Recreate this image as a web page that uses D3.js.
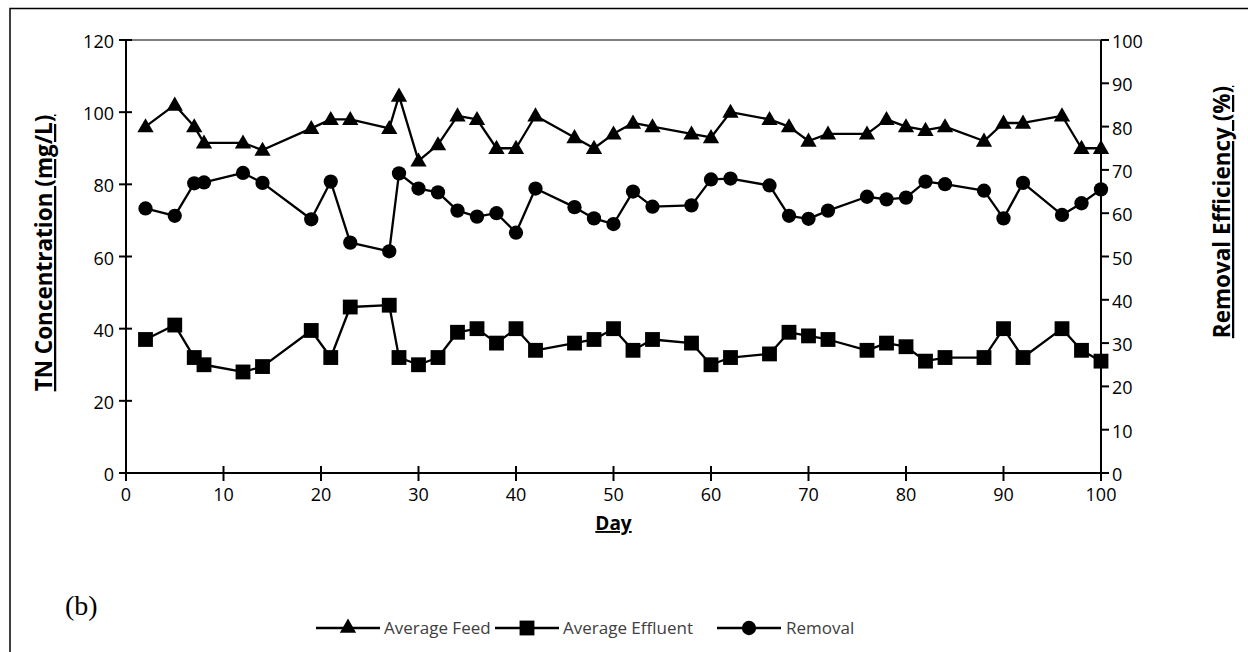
<!DOCTYPE html>
<html><head><meta charset="utf-8">
<script src="https://cdn.jsdelivr.net/npm/d3@7"></script>
<style>html,body{margin:0;padding:0;background:#fff}svg{display:block}</style>
</head><body><div id="chart"></div>
<script>
// ---- data ----
const days = [2,5,7,8,12,14,19,21,23,27,28,30,32,34,36,38,40,42,46,48,50,52,54,58,60,62,66,68,70,72,76,78,80,82,84,88,90,92,96,98,100];
const averageFeed = [96,102,96,91.5,91.5,89.5,95.5,98,98,95.5,104.5,86.5,91,99,98,90,90,99,93,90,94,97,96,94,93,100,98,96,92,94,94,98,96,95,96,92,97,97,99,90,90];
const averageEffluent = [37,41,32,30,28,29.5,39.5,32,46,46.5,32,30,32,39,40,36,40,34,36,37,40,34,37,36,30,32,33,39,38,37,34,36,35,31,32,32,40,32,40,34,31];
const removal = [61.1,59.4,66.9,67.1,69.3,67.0,58.6,67.3,53.2,51.2,69.2,65.7,64.8,60.6,59.2,60.0,55.5,65.7,61.4,58.8,57.5,65.0,61.5,61.8,67.8,68.0,66.4,59.4,58.7,60.6,63.8,63.2,63.6,67.3,66.7,65.2,58.8,67.0,59.6,62.3,65.5];
const xTicks = [0,10,20,30,40,50,60,70,80,90,100];
const yLeftTicks = [0,20,40,60,80,100,120];
const yRightTicks = [0,10,20,30,40,50,60,70,80,90,100];
const seriesNames = ["Average Feed","Average Effluent","Removal"];
const xTitle = "Day", yLeftTitle = "TN Concentration (mg/L)", yRightTitle = "Removal Efficiency (%)", panelLabel = "(b)";

// ---- layout ----
const W = 1248, H = 652;
const L = 126, R = 1101, T = 40, B = 473;
const FONT = "'Open Sans', sans-serif";

const svg = d3.select("#chart").append("svg").attr("width", W).attr("height", H);
svg.append("rect").attr("width", W).attr("height", H).attr("fill", "#fff");
svg.append("rect").attr("x", 10).attr("y", 8.5).attr("width", W + 20).attr("height", H + 20)
  .attr("fill", "none").attr("stroke", "#000").attr("stroke-width", 1.5);

const x = d3.scaleLinear().domain([0, 100]).range([L, R]);
const yL = d3.scaleLinear().domain([0, 120]).range([B, T]);
const yR = d3.scaleLinear().domain([0, 100]).range([B, T]);

svg.append("line").attr("x1", L).attr("x2", R).attr("y1", T).attr("y2", T).attr("stroke", "#000").attr("stroke-width", 1);

const axG = svg.append("g").attr("stroke", "#000").attr("stroke-width", 2);
axG.append("line").attr("x1", L).attr("x2", L).attr("y1", T).attr("y2", B);
axG.append("line").attr("x1", R).attr("x2", R).attr("y1", T).attr("y2", B);
axG.append("line").attr("x1", L).attr("x2", R).attr("y1", B).attr("y2", B);
axG.selectAll(".lt").data(yLeftTicks).join("line").attr("x1", L - 7).attr("x2", L + 6)
  .attr("y1", d => yL(d)).attr("y2", d => yL(d));
axG.selectAll(".rt").data(yRightTicks).join("line").attr("x1", R).attr("x2", R + 8)
  .attr("y1", d => yR(d)).attr("y2", d => yR(d));
axG.selectAll(".xt").data(xTicks).join("line").attr("x1", d => x(d)).attr("x2", d => x(d))
  .attr("y1", B - 7).attr("y2", B + 8);

const tickFs = 18;
svg.append("g").selectAll("text").data(yLeftTicks).join("text")
  .attr("x", 114).attr("y", d => yL(d) + 8).attr("text-anchor", "end")
  .attr("font-family", FONT).attr("font-size", tickFs).attr("fill", "#000").text(d => d);
svg.append("g").selectAll("text").data(yRightTicks).join("text")
  .attr("x", 1112).attr("y", d => yR(d) + 8).attr("text-anchor", "start")
  .attr("font-family", FONT).attr("font-size", tickFs).attr("fill", "#000").text(d => d);
svg.append("g").selectAll("text").data(xTicks).join("text")
  .attr("x", d => x(d)).attr("y", 501).attr("text-anchor", "middle")
  .attr("font-family", FONT).attr("font-size", tickFs).attr("fill", "#000").text(d => d);

svg.append("text").attr("x", (L + R) / 2).attr("y", 530).attr("text-anchor", "middle")
  .attr("font-family", FONT).attr("font-weight", "bold").attr("font-size", 19)
  .attr("text-decoration", "underline").text(xTitle);
svg.append("text").attr("transform", "translate(52,253) rotate(-90)").attr("text-anchor", "middle")
  .attr("font-family", FONT).attr("font-weight", "bold").attr("font-size", 22.5)
  .attr("text-decoration", "underline").text(yLeftTitle);
svg.append("text").attr("transform", "translate(1230,212) rotate(-90)").attr("text-anchor", "middle")
  .attr("font-family", FONT).attr("font-weight", "bold").attr("font-size", 22.5)
  .attr("text-decoration", "underline").text(yRightTitle);
svg.append("text").attr("x", 65).attr("y", 615).attr("font-family", "'Liberation Serif', serif")
  .attr("font-size", 28).text(panelLabel);

const tri = d3.symbol().type(d3.symbolTriangle).size(115)();
const sq = d3.symbol().type(d3.symbolSquare).size(220)();
const circ = d3.symbol().type(d3.symbolCircle).size(160)();

function drawSeries(vals, yScale, path, triOffset) {
  const pts = days.map((d, i) => [x(d), yScale(vals[i])]);
  svg.append("path").attr("d", d3.line()(pts)).attr("fill", "none").attr("stroke", "#000")
    .attr("stroke-width", 2.3).attr("stroke-linejoin", "round");
  svg.append("g").selectAll("path").data(pts).join("path")
    .attr("d", path).attr("transform", p => `translate(${p[0]},${p[1] + (triOffset || 0)})`).attr("fill", "#000");
}
drawSeries(averageFeed, yL, tri, 1);
drawSeries(averageEffluent, yL, sq);
drawSeries(removal, yR, circ);

const legY = 628;
const legItems = [
  {name: seriesNames[0], x0: 316, x1: 380, path: tri, tx: 384},
  {name: seriesNames[1], x0: 495, x1: 559, path: sq, tx: 563},
  {name: seriesNames[2], x0: 717, x1: 781, path: circ, tx: 786}
];
const lg = svg.append("g");
legItems.forEach(it => {
  lg.append("line").attr("x1", it.x0).attr("x2", it.x1).attr("y1", legY).attr("y2", legY)
    .attr("stroke", "#000").attr("stroke-width", 2.3);
  lg.append("path").attr("d", it.path).attr("transform", `translate(${(it.x0 + it.x1) / 2},${legY})`).attr("fill", "#000");
  lg.append("text").attr("x", it.tx).attr("y", legY + 6).attr("font-family", FONT).attr("font-size", 17)
    .attr("fill", "#404040").text(it.name);
});
</script></body></html>
